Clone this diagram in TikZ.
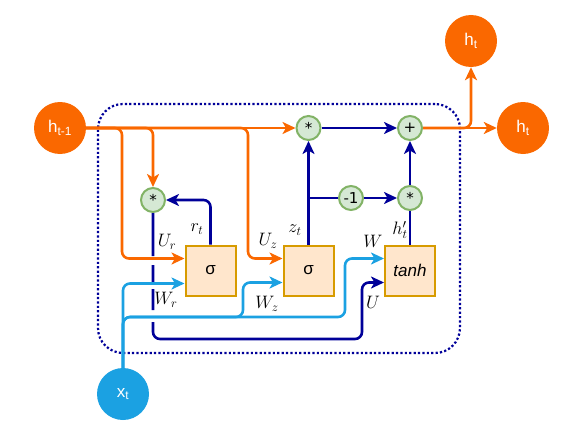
\RequirePackage{fix-cm}
\documentclass[tikz,border=0pt]{standalone}
\usepackage{fontspec}
\setmainfont{Liberation Sans}
\newfontfamily\opfont{DejaVu Sans}
\usetikzlibrary{arrows.meta,calc}
\definecolor{orng}{HTML}{FA6800}
\definecolor{lblue}{HTML}{1BA1E2}
\definecolor{dblue}{HTML}{000099}
\definecolor{gfill}{HTML}{D5E8D4}
\definecolor{gline}{HTML}{82B366}
\definecolor{bfill}{HTML}{FFE6CC}
\definecolor{bline}{HTML}{D79B00}
\begin{document}
\begin{tikzpicture}[x=1pt,y=-1pt,
  hnode/.style={circle,fill=orng,text=white,minimum size=52pt,inner sep=0pt,font=\fontsize{17}{19}\selectfont},
  xnode/.style={hnode,fill=lblue},
  opnode/.style={circle,draw=gline,fill=gfill,line width=2pt,minimum size=24pt,inner sep=0pt,font=\opfont\fontsize{15}{17}\selectfont},
  gate/.style={rectangle,draw=bline,fill=bfill,line width=2pt,minimum width=50pt,minimum height=50pt,inner sep=0pt,font=\fontsize{17}{19}\selectfont},
  cell/.style={draw=dblue,line width=2.2pt,dash pattern=on 2.2pt off 2.2pt,rounded corners=25pt,minimum width=362pt,minimum height=249pt,inner sep=0pt},
  conn/.style={line width=2.6pt,rounded corners=7pt},
  arr/.style={-{Stealth[length=13pt,width=12pt,inset=3.5pt]}},
  orline/.style={conn,draw=orng},
  lbline/.style={conn,draw=lblue},
  dbline/.style={conn,draw=dblue},
  lbl/.style={font=\fontsize{18}{20}\selectfont,inner sep=0pt}
]
\useasboundingbox (0,0) rectangle (575,428);
% cell border
\node[cell] (cellbox) at (279,228.5) {};
% state nodes
\node[hnode] (hprev) at (60,128) {h\textsubscript{t-1}};
\node[hnode] (htT) at (471,41) {h\textsubscript{t}};
\node[hnode] (htR) at (523,128) {h\textsubscript{t}};
\node[xnode] (xt) at (123,394) {x\textsubscript{t}};
% operators
\node[opnode] (mulL) at (153,200) {*};
\node[opnode] (mulT) at (308.5,128) {*};
\node[opnode] (plus) at (410,128) {+};
\node[opnode] (neg) at (351,198) {-1};
\node[opnode] (mulR) at (410,198) {*};
% gates
\node[gate] (s1) at (210.5,270.5) {σ};
\node[gate] (s2) at (308.5,270.5) {σ};
\node[gate] (tanh) at (410,270.5) {$\mathit{tanh}$};
% input points
\coordinate (s1o) at ([yshift=12pt]s1.west);
\coordinate (s1b) at ([yshift=-13pt]s1.west);
\coordinate (s2o) at ([yshift=12pt]s2.west);
\coordinate (s2b) at ([yshift=-12pt]s2.west);
\coordinate (tW) at ([yshift=12pt]tanh.west);
\coordinate (tU) at ([yshift=-12pt]tanh.west);
% junctions
\coordinate (jA) at (122,128);
\coordinate (jC) at (248,128);
\coordinate (jF) at (243,317);
\coordinate (jG) at (345,317);
\coordinate (jU) at (362,339);
\coordinate (jZ) at (308.5,198);
% dark blue U path (with gaps at crossings)
\draw[dbline,arr,dash pattern=on 43pt off 9pt on 17pt off 7pt on 21pt off 12pt on 1000pt] (mulL.south) |- (jU) |- (tU);
% orange
\draw[orline,arr] (hprev.east) -| (jA |- s1o) -- (s1o);
\draw[orline,arr] (hprev.east) -| (jC |- s2o) -- (s2o);
\draw[orline,arr] (hprev.east) -| (mulL.north);
\draw[orline,arr] (hprev) -- (mulT);
\draw[orline,arr] (plus) -- (htR);
\draw[orline,arr] (plus.east) -| (htT.south);
% light blue
\draw[lbline,arr] (xt.north) |- (s1b);
\draw[lbline,arr] (xt.north) |- (jF) |- (s2b);
\draw[lbline,arr] (xt.north) |- (jG) |- (tW);
% dark blue
\draw[dbline,arr] (s1.north) |- (mulL.east);
\draw[dbline,arr] (s2.north) -- (mulT.south);
\draw[dbline] (jZ) -- (neg.west);
\draw[dbline,arr] (neg) -- (mulR);
\draw[dbline] (tanh.north) -- (mulR.south);
\draw[dbline,arr] (mulR) -- (plus);
\draw[dbline,arr] (mulT) -- (plus);
% labels
\node[lbl] (lrt) at (197,229) {$r_t$};
\node[lbl] (lUr) at (167,242) {$U_r$};
\node[lbl] (lUz) at (268,241) {$U_z$};
\node[lbl] (lzt) at (295,230) {$z_t$};
\node[lbl] (lW) at (373,241) {$W$};
\node[lbl] (lht) at (400,230) {$h'_t$};
\node[lbl] (lWr) at (166,300) {$W_r$};
\node[lbl] (lWz) at (267,304) {$W_z$};
\node[lbl] (lU) at (373,302) {$U$};
\end{tikzpicture}
\end{document}
